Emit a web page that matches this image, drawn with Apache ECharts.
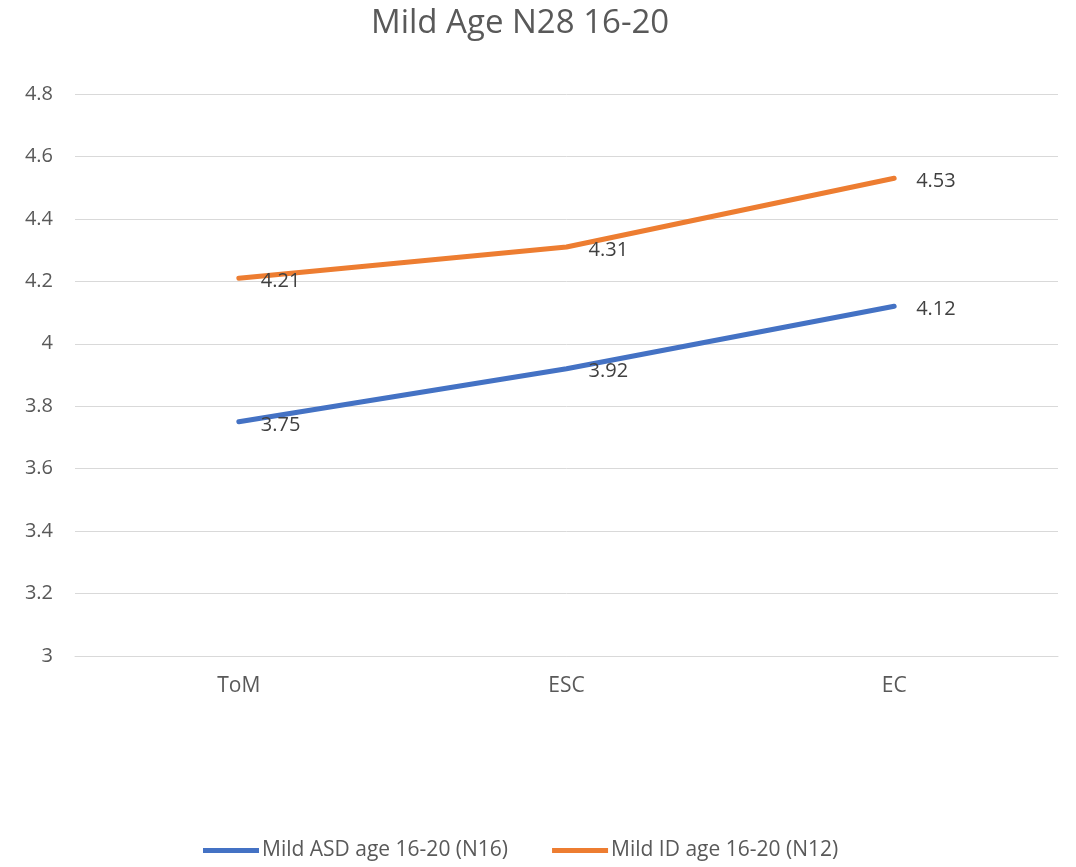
<!DOCTYPE html>
<html>
<head>
<meta charset="utf-8">
<script src="https://cdn.jsdelivr.net/npm/echarts@6/dist/echarts.min.js"></script>
<style>
  html, body { margin: 0; padding: 0; background: #fff; }
  #chart { width: 1076px; height: 867px; }
</style>
</head>
<body>
<div id="chart"></div>
<script>
const categories = ['ToM', 'ESC', 'EC'];
const asdValues = [3.75, 3.92, 4.12];
const idValues = [4.21, 4.31, 4.53];
const seriesNames = ['Mild ASD age 16-20 (N16)', 'Mild ID age 16-20 (N12)'];

const chart = echarts.init(document.getElementById('chart'));
const font = '"Open Sans", "Noto Sans", sans-serif';

const labelStyle = {
  show: true,
  position: 'right',
  distance: 22,
  offset: [0, 3],
  color: '#404040',
  fontSize: 20,
  fontFamily: font,
  formatter: p => p.value.toFixed(2)
};

chart.setOption({
  backgroundColor: '#ffffff',
  title: {
    text: 'Mild Age N28 16-20',
    left: 366,
    top: 2,
    textStyle: { color: '#595959', fontSize: 33, fontWeight: 'normal', fontFamily: font }
  },
  legend: {
    data: seriesNames,
    bottom: 1,
    left: 198,
    icon: 'rect',
    itemWidth: 56,
    itemHeight: 5,
    itemGap: 44,
    textStyle: { color: '#595959', fontSize: 21, fontFamily: font, padding: [0, 0, 0, -2] }
  },
  grid: { left: 75, right: 18, top: 94, bottom: 211 },
  xAxis: {
    type: 'category',
    data: categories,
    boundaryGap: true,
    axisLine: { lineStyle: { color: '#d9d9d9', width: 1 } },
    axisTick: { show: false },
    axisLabel: { color: '#595959', fontSize: 21, fontFamily: font, margin: 20 }
  },
  yAxis: {
    type: 'value',
    min: 3,
    max: 4.8,
    interval: 0.2,
    axisLine: { show: false },
    axisTick: { show: false },
    axisLabel: {
      color: '#595959', fontSize: 20, fontFamily: font, margin: 22,
      formatter: v => String(Math.round(v * 10) / 10)
    },
    splitLine: { lineStyle: { color: '#d9d9d9', width: 1 } }
  },
  series: [
    {
      name: seriesNames[0],
      type: 'line',
      data: asdValues,
      symbol: 'circle',
      symbolSize: 0,
      showSymbol: true,
      lineStyle: { color: '#4472C4', width: 5, cap: 'round' },
      itemStyle: { color: '#4472C4' },
      label: labelStyle
    },
    {
      name: seriesNames[1],
      type: 'line',
      data: idValues,
      symbol: 'circle',
      symbolSize: 0,
      showSymbol: true,
      lineStyle: { color: '#ED7D31', width: 5, cap: 'round' },
      itemStyle: { color: '#ED7D31' },
      label: labelStyle
    }
  ],
  animation: false
});
</script>
</body>
</html>
